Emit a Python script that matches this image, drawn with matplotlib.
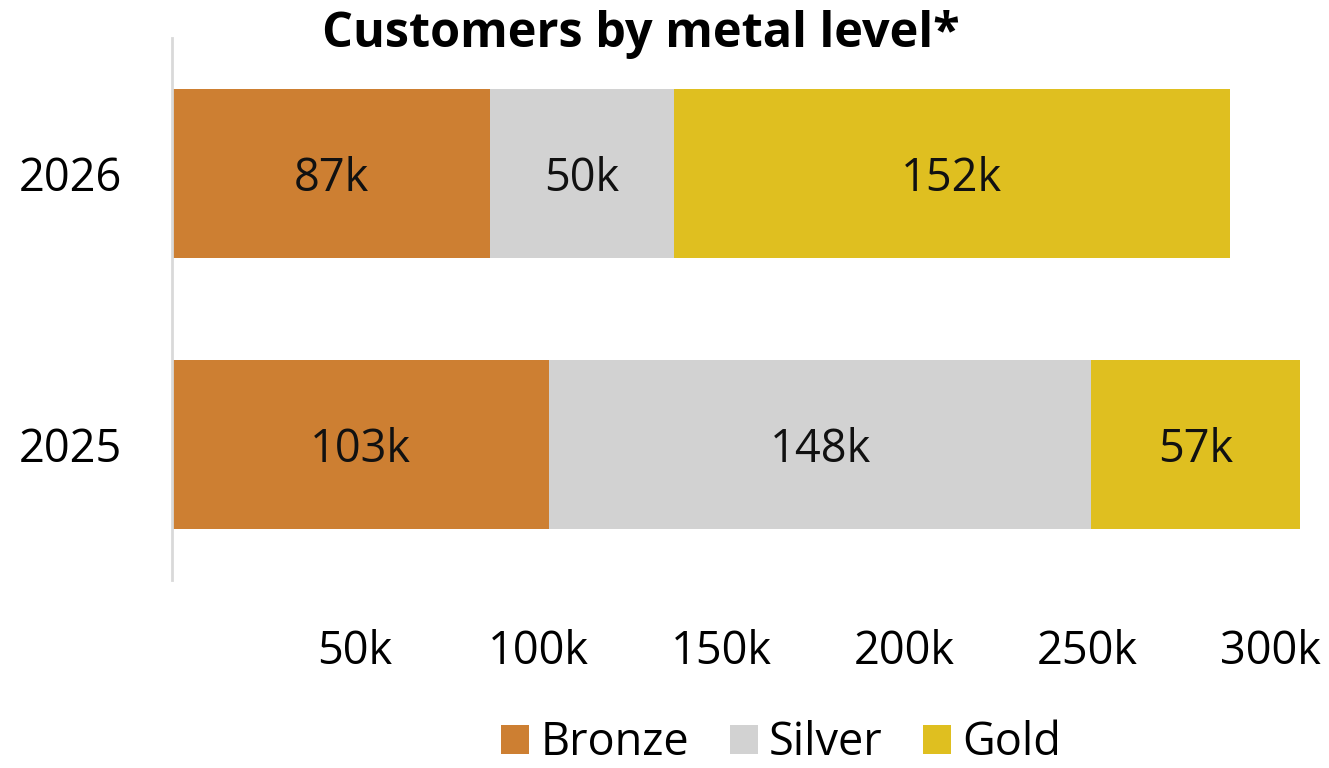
import matplotlib
matplotlib.use("Agg")
import matplotlib.pyplot as plt

years = ["2025", "2026"]
series = ["Bronze", "Silver", "Gold"]
bronze = [103, 87]
silver = [148, 50]
gold = [57, 152]
colors = ["#CD7F32", "#D2D2D2", "#DFBF20"]
xticks = [50, 100, 150, 200, 250, 300]
xtick_labels = ["50k", "100k", "150k", "200k", "250k", "300k"]

plt.rcParams['font.family'] = ['Open Sans', 'DejaVu Sans']

fig = plt.figure(figsize=(13.29, 7.68), dpi=100)
ax = fig.add_axes([0.1294, 0.2448, 0.854, 0.7057])

ypos = list(range(len(years)))
left = [0, 0]
for name, vals, c in zip(series, [bronze, silver, gold], colors):
    ax.barh(ypos, vals, left=left, height=0.625, color=c, label=name)
    for y, v, l in zip(ypos, vals, left):
        ax.text(l + v / 2, y, f"{v}k", ha="center", va="center_baseline",
                fontsize=32.5, color="#111111")
    left = [a + b for a, b in zip(left, vals)]

ax.set_xlim(0, 310)
ax.set_ylim(-0.5, 1.5)
ax.set_yticks(ypos)
ax.set_yticklabels(years, fontsize=32.5)
ax.set_xticks(xticks)
ax.set_xticklabels(xtick_labels, fontsize=32.5)
ax.tick_params(axis="x", length=0, pad=35)
ax.tick_params(axis="y", length=0, pad=36)
for s in ["top", "right", "bottom"]:
    ax.spines[s].set_visible(False)
ax.spines["left"].set_color("#D9D9D9")
ax.spines["left"].set_linewidth(2)

fig.text(0.482, 0.955, "Customers by metal level*", ha="center", va="center",
         fontsize=35, fontweight="bold")

fig.legend(loc="center", bbox_to_anchor=(0.588, 0.032), ncol=3, frameon=False,
           fontsize=32.5, handlelength=0.62, handleheight=0.62, handletextpad=0.25,
           columnspacing=0.9, borderaxespad=0)

fig.savefig("out.png", dpi=100)
